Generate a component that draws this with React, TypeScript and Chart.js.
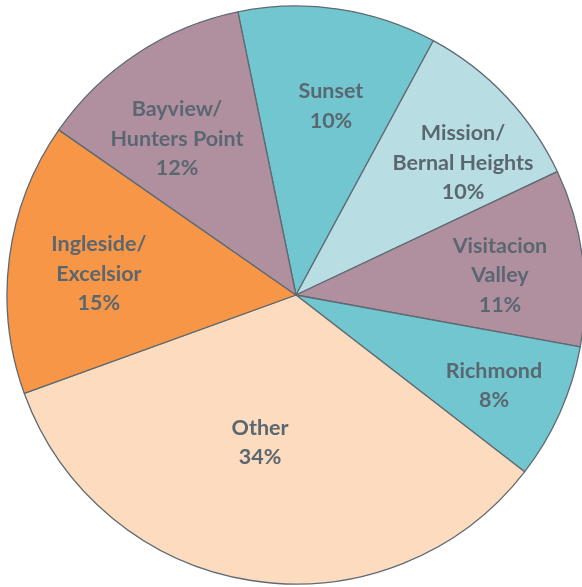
import React, { useEffect, useRef } from "react";
import { Chart, registerables } from "chart.js";

Chart.register(...registerables);

const categories = ["Sunset", "Mission/ Bernal Heights", "Visitacion Valley", "Richmond", "Other", "Ingleside/ Excelsior", "Bayview/ Hunters Point"];
const labelLines = [
  ["Sunset", "10%"],
  ["Mission/", "Bernal Heights", "10%"],
  ["Visitacion", "Valley", "11%"],
  ["Richmond", "8%"],
  ["Other", "34%"],
  ["Ingleside/", "Excelsior", "15%"],
  ["Bayview/", "Hunters Point", "12%"],
];
const shares = [11.1, 10.1, 9.9, 7.6, 34.0, 15.2, 12.1];
const colors = ["#71C6CF", "#B8DEE3", "#B0909F", "#71C6CF", "#FDDBBF", "#F79646", "#B0909F"];

// label placement: [angle offset in degrees, radius fraction]
const labelPlacement = [
  [2.1, 0.665],
  [5.1, 0.737],
  [1.9, 0.709],
  [0.5, 0.753],
  [4.8, 0.525],
  [-1.4, 0.686],
  [-3.95, 0.679],
];

const labelPlugin = {
  id: "sliceLabels",
  afterDatasetsDraw(chart: any) {
    const meta = chart.getDatasetMeta(0);
    const ctx = chart.ctx;
    ctx.save();
    ctx.font = "bold 21.5px Lato, 'Open Sans', sans-serif";
    ctx.fillStyle = "#5A6770";
    ctx.textAlign = "center";
    ctx.textBaseline = "middle";
    const lh = 29.5;
    meta.data.forEach((arc: any, i: number) => {
      const p = arc.getProps(["x", "y", "startAngle", "endAngle", "outerRadius"], true);
      const mid = (p.startAngle + p.endAngle) / 2 + (labelPlacement[i][0] * Math.PI) / 180;
      const r = p.outerRadius * labelPlacement[i][1];
      const cx = p.x + Math.cos(mid) * r;
      const cy = p.y + Math.sin(mid) * r;
      const lines = labelLines[i];
      const y0 = cy - ((lines.length - 1) * lh) / 2;
      lines.forEach((t, k) => ctx.fillText(t, cx, y0 + k * lh));
    });
    ctx.restore();
  },
};

export default function App() {
  const ref = useRef<HTMLCanvasElement>(null);
  useEffect(() => {
    document.body.style.margin = "0";
    document.body.style.overflow = "hidden";
    const chart = new Chart(ref.current!, {
      type: "pie",
      data: {
        labels: categories,
        datasets: [
          {
            data: shares,
            backgroundColor: colors,
            borderColor: "#5F6A72",
            borderWidth: 1.3,
          },
        ],
      },
      options: {
        responsive: false,
        animation: false,
        rotation: -11.6,
        radius: 289,
        layout: { padding: 0 },
        plugins: { legend: { display: false }, tooltip: { enabled: false } },
      },
      plugins: [labelPlugin],
    });
    return () => chart.destroy();
  }, []);
  return (
    <div style={{ position: "fixed", left: 0, top: 0, width: 582, height: 587, overflow: "hidden", background: "#fff" }}>
      <canvas ref={ref} width={592} height={590} style={{ width: 592, height: 590 }} />
    </div>
  );
}
